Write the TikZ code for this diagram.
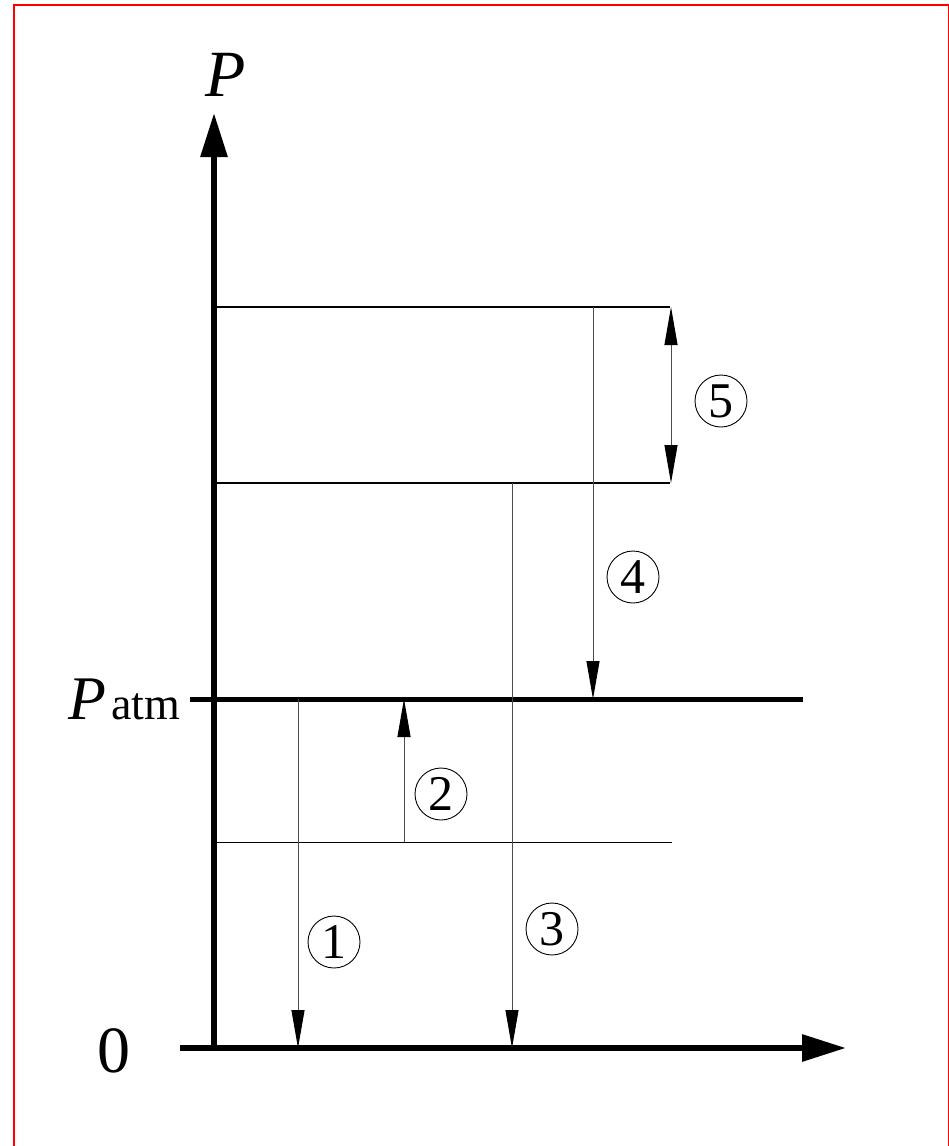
\documentclass[tikz,border=0pt]{standalone}
\usepackage{fontspec}
\setmainfont{Liberation Serif}
\usetikzlibrary{arrows.meta}
\begin{document}
\begin{tikzpicture}[x=1pt,y=-1pt,
  axis/.style={line width=6pt,-{Triangle[length=44pt,width=26pt]}},
  patmline/.style={line width=5pt},
  level/.style={line width=1.4pt},
  dim/.style={line width=1pt,draw=black!70,-{Triangle[length=38pt,width=13pt,color=black]}},
  dimboth/.style={line width=1pt,draw=black!70,{Triangle[length=38pt,width=13pt,color=black]}-{Triangle[length=38pt,width=13pt,color=black]}},
  circ/.style={circle,draw,line width=0.9pt,minimum size=52pt,inner sep=0pt,font=\fontsize{50}{50}\selectfont},
  lab/.style={inner sep=0pt}]
\useasboundingbox (0,0) rectangle (949,1146);
% frame
\draw[red,line width=1.6pt] (14,1150) -- (14,5) -- (948.5,5) -- (948.5,1150);
% coordinates
\coordinate (o) at (214,1048);
\coordinate (ytop) at (214,113);
\coordinate (xs) at (180,1048);
\coordinate (xe) at (846,1048);
\coordinate (pa1) at (190,699);
\coordinate (pa2) at (803,699);
\coordinate (t1) at (216,307); \coordinate (t2) at (670,307);
\coordinate (m1) at (216,483); \coordinate (m2) at (670,483);
\coordinate (l1) at (216,842); \coordinate (l2) at (672,842);
% axes
\draw[axis] (214,1051) -- (ytop);
\draw[axis] (xs) -- (xe);
\draw[patmline] (pa1) -- (pa2);
% levels
\draw[level] (t1) -- (t2);
\draw[level] (m1) -- (m2);
\draw[line width=1pt] (l1) -- (l2);
% arrows
\coordinate (a5t) at (671,307); \coordinate (a5b) at (671,483);
\draw[dimboth] (a5t) -- (a5b);
\coordinate (a4t) at (593,307); \coordinate (a4b) at (593,699);
\draw[dim] (a4t) -- (a4b);
\coordinate (a3t) at (512,483); \coordinate (a3b) at (512,1048);
\draw[dim] (a3t) -- (a3b);
\coordinate (a2b) at (404,842); \coordinate (a2t) at (404,699);
\draw[dim] (a2b) -- (a2t);
\coordinate (a1t) at (298,699); \coordinate (a1b) at (298,1048);
\draw[dim] (a1t) -- (a1b);
% circled labels
\node[circ] (n5) at (721,401) {5};
\node[circ] (n4) at (633,577) {4};
\node[circ] (n3) at (552,929) {3};
\node[circ] (n2) at (441,794) {2};
\node[circ] (n1) at (334,942) {1};
% axis labels
\node[lab,font=\fontsize{66}{66}\selectfont] (Plab) at (226,75) {\textit{P}};
\node[lab,font=\fontsize{66}{66}\selectfont] (zero) at (114,1051) {0};
\node[lab,anchor=base west,font=\fontsize{62}{62}\selectfont] (Patm) at (68,719) {\textit{P}\hspace{5pt}\fontsize{46}{46}\selectfont atm};
\end{tikzpicture}
\end{document}
